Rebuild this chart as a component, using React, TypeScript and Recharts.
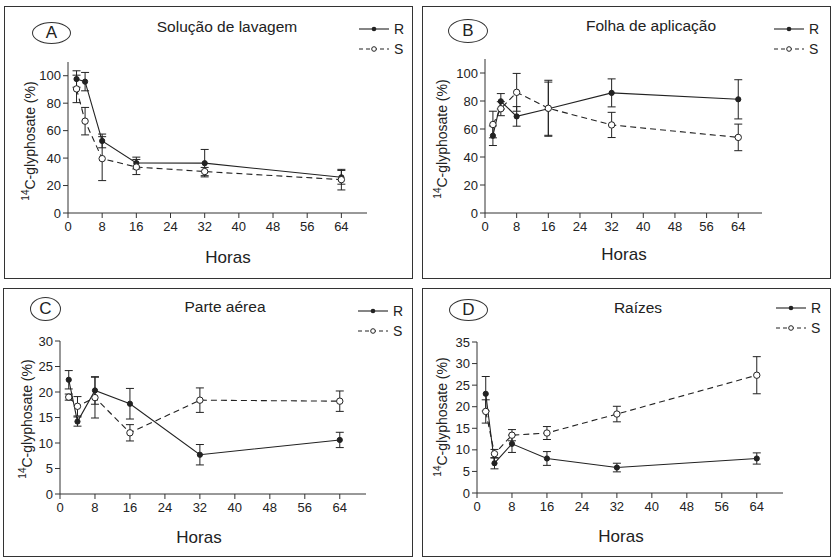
import { LineChart, Line, XAxis, YAxis, ErrorBar } from "recharts";

const hours = [2, 4, 8, 16, 32, 64];
const xTicks = [0, 8, 16, 24, 32, 40, 48, 56, 64];

// A - Solução de lavagem
const aR = [97.6, 95.7, 52.5, 36.4, 36.3, 26];
const aRErr = [6, 6.7, 5, 4.3, 10, 5];
const aS = [90.4, 66.9, 39.6, 33.5, 30.2, 24.3];
const aSErr = [10, 10, 16, 5.5, 3, 7.5];

// B - Folha de aplicação
const bR = [55.2, 79.8, 69, 74.5, 85.8, 81.2];
const bRErr = [7, 5.5, 7, 19, 10, 14];
const bS = [63.2, 74.5, 86.2, 74.8, 62.9, 54];
const bSErr = [9.5, 5, 13.5, 20, 9, 9.5];

// C - Parte aérea
const cR = [22.4, 14.2, 20.3, 17.7, 7.7, 10.6];
const cRErr = [1.8, 0.9, 2.7, 3, 2, 1.5];
const cS = [19, 17.2, 18.9, 12, 18.4, 18.2];
const cSErr = [0.6, 1.9, 4, 1.6, 2.4, 2];

// D - Raízes
const dR = [23, 6.9, 11.4, 8, 5.9, 8];
const dRErr = [4, 1.3, 2, 1.6, 1, 1.3];
const dS = [18.9, 9.1, 13.4, 13.9, 18.3, 27.3];
const dSErr = [2.7, 1, 1.3, 1.5, 1.8, 4.3];

const ink = "#222";
const font = "'Liberation Sans', Arial, sans-serif";

type PanelProps = {
  left: number;
  top: number;
  w: number;
  h: number;
  m: { left: number; top: number; right: number; bottom: number };
  r: number[];
  rErr: number[];
  s: number[];
  sErr: number[];
  yMax: number;
  yTicks: number[];
  title: string;
  titleX: number;
  titleY: number;
  letter: string;
  oval: { x: number; y: number; w: number; h: number };
  legX: number;
  legY: number;
  horasX: number;
  horasY: number;
  yLabX: number;
  yLabY: number;
};

function Panel(p: PanelProps) {
  const data = hours.map((x, i) => ({
    x,
    r: p.r[i],
    rErr: p.rErr[i],
    s: p.s[i],
    sErr: p.sErr[i],
  }));
  const yAxisW = 40;
  return (
    <div
      style={{
        position: "absolute",
        left: p.left,
        top: p.top,
        width: p.w,
        height: p.h,
        border: "1.5px solid #333",
        boxSizing: "border-box",
        fontFamily: font,
        color: ink,
      }}
    >
      <div style={{ position: "absolute", left: -1.5, top: -1.5 }}>
        <LineChart
          width={p.w}
          height={p.h}
          data={data}
          margin={{
            left: p.m.left - yAxisW,
            top: p.m.top,
            right: p.m.right,
            bottom: p.m.bottom - 30,
          }}
        >
          <XAxis
            dataKey="x"
            type="number"
            domain={[0, 70]}
            ticks={xTicks}
            height={30}
            tickSize={5}
            tickMargin={4}
            stroke="#333"
            tick={{ fill: ink, fontSize: 13, fontFamily: font }}
          />
          <YAxis
            type="number"
            domain={[0, p.yMax]}
            ticks={p.yTicks}
            width={yAxisW}
            tickSize={5}
            tickMargin={2}
            stroke="#333"
            tick={{ fill: ink, fontSize: 13, fontFamily: font }}
          />
          <Line
            dataKey="r"
            stroke={ink}
            strokeWidth={1.1}
            dot={{ r: 2.6, fill: ink, stroke: ink, strokeWidth: 1 }}
            isAnimationActive={false}
          >
            <ErrorBar dataKey="rErr" width={4} stroke={ink} strokeWidth={1} direction="y" />
          </Line>
          <Line
            dataKey="s"
            stroke={ink}
            strokeWidth={1.1}
            strokeDasharray="6 4"
            dot={{ r: 3.2, fill: "#fff", stroke: ink, strokeWidth: 1, strokeDasharray: "" }}
            isAnimationActive={false}
          >
            <ErrorBar dataKey="sErr" width={4} stroke={ink} strokeWidth={1} direction="y" />
          </Line>
        </LineChart>
      </div>
      <div
        style={{
          position: "absolute",
          left: p.titleX,
          top: p.titleY,
          transform: "translate(-50%, -50%)",
          fontSize: 15.5,
          whiteSpace: "nowrap",
        }}
      >
        {p.title}
      </div>
      <div
        style={{
          position: "absolute",
          left: p.oval.x,
          top: p.oval.y,
          width: p.oval.w,
          height: p.oval.h,
          border: "1.3px solid #333",
          borderRadius: "50%",
          boxSizing: "border-box",
          display: "flex",
          alignItems: "center",
          justifyContent: "center",
          fontSize: 17,
        }}
      >
        {p.letter}
      </div>
      <div style={{ position: "absolute", left: p.legX, top: p.legY - 9 }}>
        <div style={{ display: "flex", alignItems: "center", height: 18 }}>
          <svg width={30} height={10}>
            <line x1={0} y1={5} x2={30} y2={5} stroke={ink} strokeWidth={1.1} />
            <circle cx={15} cy={5} r={2.3} fill={ink} />
          </svg>
          <span style={{ fontSize: 14, marginLeft: 5 }}>R</span>
        </div>
        <div style={{ display: "flex", alignItems: "center", height: 18, marginTop: 2 }}>
          <svg width={30} height={10}>
            <line x1={0} y1={5} x2={30} y2={5} stroke={ink} strokeWidth={1.1} strokeDasharray="4 3" />
            <circle cx={15} cy={5} r={2.3} fill="#fff" stroke={ink} strokeWidth={1} />
          </svg>
          <span style={{ fontSize: 14, marginLeft: 5 }}>S</span>
        </div>
      </div>
      <div
        style={{
          position: "absolute",
          left: p.horasX,
          top: p.horasY,
          transform: "translate(-50%, -50%)",
          fontSize: 17,
        }}
      >
        Horas
      </div>
      <div
        style={{
          position: "absolute",
          left: p.yLabX,
          top: p.yLabY,
          transform: "translate(-50%, -50%) rotate(-90deg)",
          fontSize: 14,
          whiteSpace: "nowrap",
        }}
      >
        <sup style={{ fontSize: 10 }}>14</sup>C-glyphosate (%)
      </div>
    </div>
  );
}

export default function App() {
  return (
    <div
      style={{
        position: "fixed",
        left: 0,
        top: 0,
        width: 835,
        height: 558,
        background: "#fff",
      }}
    >
      <Panel
        left={4}
        top={6}
        w={409}
        h={273}
        m={{ left: 64, top: 56, right: 46, bottom: 66 }}
        r={aR}
        rErr={aRErr}
        s={aS}
        sErr={aSErr}
        yMax={110}
        yTicks={[0, 20, 40, 60, 80, 100]}
        title="Solução de lavagem"
        titleX={222}
        titleY={20}
        letter="A"
        oval={{ x: 27, y: 15, w: 39, h: 22 }}
        legX={354}
        legY={22}
        horasX={223}
        horasY={251}
        yLabX={24}
        yLabY={134}
      />
      <Panel
        left={422}
        top={6}
        w={409}
        h={273}
        m={{ left: 63, top: 53, right: 69, bottom: 66 }}
        r={bR}
        rErr={bRErr}
        s={bS}
        sErr={bSErr}
        yMax={110}
        yTicks={[0, 20, 40, 60, 80, 100]}
        title="Folha de aplicação"
        titleX={228}
        titleY={19}
        letter="B"
        oval={{ x: 25, y: 12, w: 40, h: 24 }}
        legX={351}
        legY={22}
        horasX={201}
        horasY={248}
        yLabX={18}
        yLabY={132}
      />
      <Panel
        left={3}
        top={288}
        w={410}
        h={269}
        m={{ left: 57, top: 53, right: 47, bottom: 63 }}
        r={cR}
        rErr={cRErr}
        s={cS}
        sErr={cSErr}
        yMax={30}
        yTicks={[0, 5, 10, 15, 20, 25, 30]}
        title="Parte aérea"
        titleX={221}
        titleY={18}
        letter="C"
        oval={{ x: 26, y: 8, w: 31, h: 24 }}
        legX={354}
        legY={22}
        horasX={195}
        horasY={249}
        yLabX={22}
        yLabY={130}
      />
      <Panel
        left={422}
        top={288}
        w={409}
        h={269}
        m={{ left: 55, top: 54, right: 48, bottom: 64 }}
        r={dR}
        rErr={dRErr}
        s={dS}
        sErr={dSErr}
        yMax={35}
        yTicks={[0, 5, 10, 15, 20, 25, 30, 35]}
        title="Raízes"
        titleX={215}
        titleY={19}
        letter="D"
        oval={{ x: 26, y: 10, w: 39, h: 22 }}
        legX={353}
        legY={19}
        horasX={198}
        horasY={248}
        yLabX={18}
        yLabY={128}
      />
    </div>
  );
}
